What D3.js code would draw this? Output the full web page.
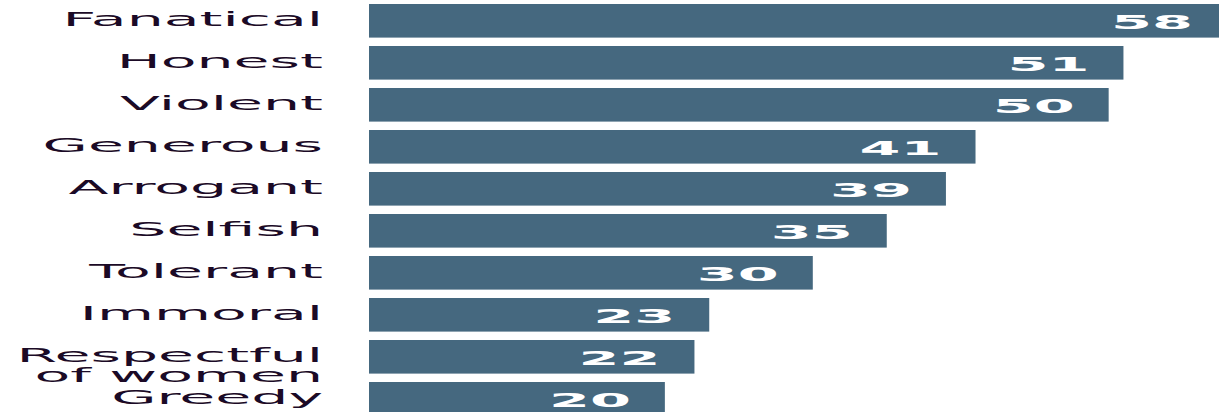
<!DOCTYPE html>
<html>
<head>
<meta charset="utf-8">
<script src="https://cdn.jsdelivr.net/npm/d3@7/dist/d3.min.js"></script>
<style>
  html, body { margin: 0; padding: 0; background: #fff; overflow: hidden; }
  svg { display: block; }
</style>
</head>
<body>
<svg id="chart" width="1219" height="412"></svg>
<script>
// Data
const categories = ["Fanatical", "Honest", "Violent", "Generous", "Arrogant", "Selfish", "Tolerant", "Immoral", "Respectful|of women", "Greedy"];
const values = [58, 51, 50, 41, 39, 35, 30, 23, 22, 20];

const svg = d3.select("#chart");

const x = d3.scaleLinear().domain([0, 58]).range([369, 1227]);
const y = d3.scaleBand().domain(categories).range([-0.2, 419.8]).paddingInner(0.2).paddingOuter(0.1);

const barColor = "#45687f";
const labelSX = 3.0, valueSX = 3.1;

// Bars
svg.append("g").selectAll("rect")
  .data(categories)
  .join("rect")
  .attr("x", x(0))
  .attr("y", d => y(d))
  .attr("width", (d, i) => x(values[i]) - x(0))
  .attr("height", y.bandwidth())
  .attr("fill", barColor);

// Category labels (horizontally stretched)
const labels = svg.append("g").selectAll("text")
  .data(categories)
  .join("text")
  .attr("transform", d => `translate(323,${y(d) + y.bandwidth() / 2 + 5}) scale(${labelSX},1)`)
  .attr("text-anchor", "end")
  .attr("font-family", "'DejaVu Sans', Verdana, sans-serif")
  .attr("font-size", 19.5)
  .attr("fill", "#1b0a26");
labels.each(function(d) {
  const parts = d.split("|");
  const t = d3.select(this);
  parts.forEach((p, j) => {
    t.append("tspan").attr("x", 0).attr("dy", j === 0 ? 0 : 20).text(p);
  });
});

// Value labels (white, inside bars)
svg.append("g").selectAll("text")
  .data(categories)
  .join("text")
  .attr("transform", (d, i) => `translate(${x(values[i]) - 34},${y(d) + y.bandwidth() / 2 + 8}) scale(${valueSX},1)`)
  .attr("text-anchor", "end")
  .attr("font-family", "'DejaVu Sans', Verdana, sans-serif")
  .attr("font-weight", "bold")
  .attr("font-size", 19)
  .attr("fill", "#ffffff")
  .text((d, i) => values[i]);
</script>
</body>
</html>
